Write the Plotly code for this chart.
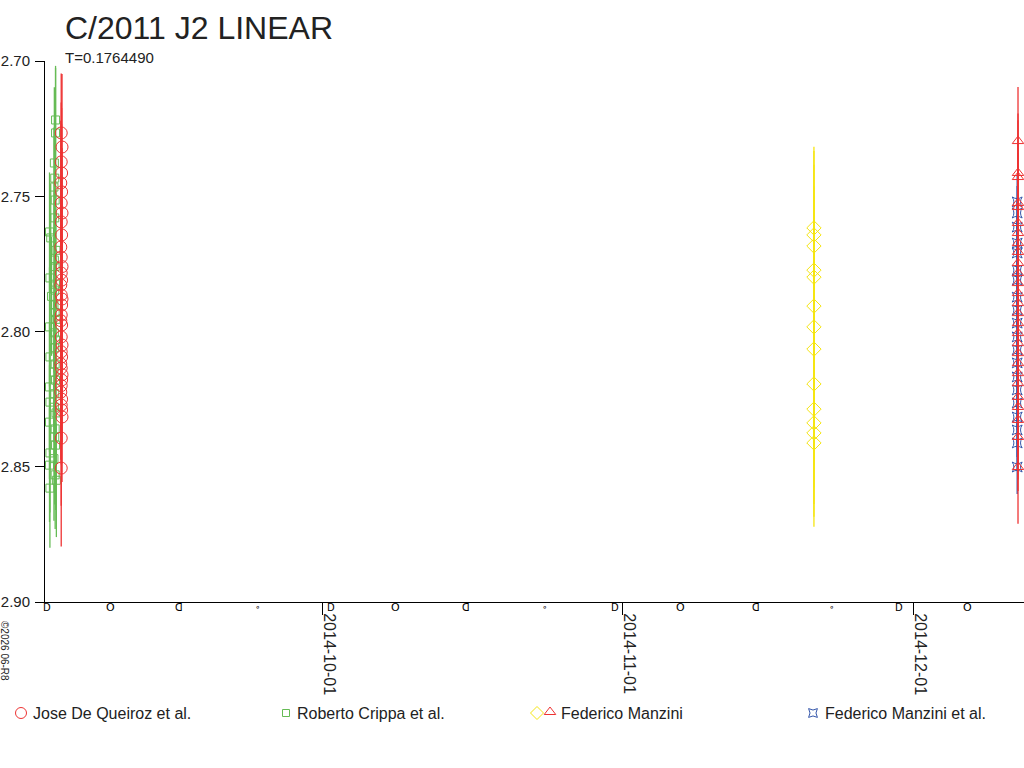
import plotly.graph_objects as go

# ---------------- data ----------------
title_text = "C/2011 J2 LINEAR"
subtitle_text = "T=0.1764490"

# Roberto Crippa et al. (green squares)
crippa_t = ["2014-09-02 21:00", "2014-09-03 12:00", "2014-09-03 12:00", "2014-09-03 09:00",
            "2014-09-03 10:00", "2014-09-03 08:00", "2014-09-03 11:00", "2014-09-03 00:00",
            "2014-09-03 10:00", "2014-09-03 13:00", "2014-09-03 09:00", "2014-09-03 11:00",
            "2014-09-02 22:00", "2014-09-03 12:00", "2014-09-03 10:00", "2014-09-03 02:00",
            "2014-09-03 08:00", "2014-09-03 11:00", "2014-09-03 13:00", "2014-09-02 21:00",
            "2014-09-03 09:00", "2014-09-03 12:00", "2014-09-03 10:00", "2014-09-02 22:00",
            "2014-09-03 11:00", "2014-09-03 08:00", "2014-09-02 21:00", "2014-09-03 12:00",
            "2014-09-03 10:00", "2014-09-02 22:00", "2014-09-03 09:00", "2014-09-03 13:00",
            "2014-09-02 21:00", "2014-09-03 11:00", "2014-09-03 10:00", "2014-09-02 22:00",
            "2014-09-03 12:00", "2014-09-02 21:00", "2014-09-03 08:00", "2014-09-03 11:00",
            "2014-09-02 22:00", "2014-09-03 14:00"]
crippa_mag = [2.7632, 2.7218, 2.7266, 2.7377, 2.7433, 2.7466, 2.7514, 2.7654, 2.7580, 2.7700,
              2.7736, 2.7760, 2.7802, 2.7825, 2.7847, 2.7870, 2.7902, 2.7930, 2.7955, 2.7983,
              2.8005, 2.8031, 2.8060, 2.8094, 2.8120, 2.8150, 2.8205, 2.8180, 2.8230, 2.8261,
              2.8280, 2.8301, 2.8335, 2.8360, 2.8390, 2.8449, 2.8420, 2.8494, 2.8470, 2.8530,
              2.8579, 2.8550]
crippa_err = [0.022, 0.020, 0.024, 0.028, 0.025, 0.022, 0.026, 0.020, 0.024, 0.022,
              0.025, 0.023, 0.021, 0.026, 0.024, 0.022, 0.025, 0.023, 0.026, 0.022,
              0.024, 0.021, 0.025, 0.023, 0.022, 0.026, 0.024, 0.022, 0.023, 0.025,
              0.022, 0.024, 0.021, 0.023, 0.025, 0.022, 0.024, 0.021, 0.023, 0.020,
              0.022, 0.021]

# Jose De Queiroz et al. (red circles)
queiroz_t = ["2014-09-04 02:00", "2014-09-04 04:00", "2014-09-04 02:00", "2014-09-04 03:00",
             "2014-09-04 01:00", "2014-09-04 03:00", "2014-09-04 02:00", "2014-09-04 04:00",
             "2014-09-04 02:00", "2014-09-04 03:00", "2014-09-04 01:00", "2014-09-04 02:00",
             "2014-09-04 04:00", "2014-09-04 02:00", "2014-09-04 03:00", "2014-09-04 01:00",
             "2014-09-04 02:00", "2014-09-04 04:00", "2014-09-04 03:00", "2014-09-04 02:00",
             "2014-09-04 01:00", "2014-09-04 03:00", "2014-09-04 02:00", "2014-09-04 04:00",
             "2014-09-04 02:00", "2014-09-04 03:00", "2014-09-04 01:00", "2014-09-04 02:00",
             "2014-09-04 04:00", "2014-09-04 03:00", "2014-09-04 02:00", "2014-09-04 01:00",
             "2014-09-04 03:00", "2014-09-04 02:00", "2014-09-04 04:00", "2014-09-04 02:00",
             "2014-09-04 03:00", "2014-09-04 02:00"]
queiroz_mag = [2.7266, 2.7318, 2.7373, 2.7414, 2.7451, 2.7484, 2.7525, 2.7562, 2.7595, 2.7643,
               2.7688, 2.7725, 2.7760, 2.7784, 2.7810, 2.7828, 2.7865, 2.7880, 2.7902, 2.7939,
               2.7960, 2.7976, 2.8020, 2.8050, 2.8075, 2.8094, 2.8120, 2.8135, 2.8160, 2.8179,
               2.8200, 2.8224, 2.8250, 2.8272, 2.8316, 2.8394, 2.8290, 2.8505]
queiroz_err = [0.022, 0.027, 0.022, 0.024, 0.023, 0.025, 0.022, 0.024, 0.026, 0.023,
               0.024, 0.022, 0.025, 0.023, 0.024, 0.022, 0.025, 0.023, 0.026, 0.022,
               0.024, 0.023, 0.025, 0.022, 0.024, 0.023, 0.026, 0.022, 0.025, 0.024,
               0.023, 0.025, 0.024, 0.022, 0.024, 0.025, 0.023, 0.029]

# Federico Manzini (yellow diamonds)
manzini_d_t = ["2014-11-20 18:30"] * 13
manzini_d_mag = [2.7617, 2.7643, 2.7684, 2.7773, 2.7799, 2.7906, 2.7983, 2.8065, 2.8194,
                 2.8287, 2.8338, 2.8375, 2.8412]
manzini_d_err = [0.030, 0.031, 0.030, 0.031, 0.030, 0.029, 0.030, 0.031, 0.030,
                 0.029, 0.030, 0.031, 0.031]

# Federico Manzini (red triangles)
manzini_t_t = ["2014-12-11 20:00"] * 27
manzini_t_mag = [2.7296, 2.7414, 2.7429, 2.7525, 2.7540, 2.7599, 2.7636, 2.7673, 2.7706,
                 2.7747, 2.7784, 2.7821, 2.7858, 2.7895, 2.7932, 2.7969, 2.8006, 2.8043,
                 2.8080, 2.8117, 2.8154, 2.8191, 2.8242, 2.8279, 2.8327, 2.8390, 2.8501]
manzini_t_err = [0.020, 0.022, 0.021, 0.022, 0.020, 0.021, 0.022, 0.020, 0.021,
                 0.022, 0.020, 0.021, 0.022, 0.020, 0.021, 0.022, 0.020, 0.021,
                 0.022, 0.020, 0.021, 0.022, 0.020, 0.021, 0.022, 0.020, 0.021]

# Federico Manzini et al. (blue stars)
manzini_s_t = ["2014-12-11 18:00"] * 20
manzini_s_mag = [2.7521, 2.7562, 2.7614, 2.7673, 2.7710, 2.7773, 2.7810, 2.7873, 2.7921,
                 2.7969, 2.8020, 2.8068, 2.8116, 2.8168, 2.8216, 2.8264, 2.8316, 2.8364,
                 2.8412, 2.8501]
manzini_s_err = [0.010] * 20

# moon phases along the time axis
moon_dates = ["2014-09-02 11:11", "2014-09-09 01:38", "2014-09-16 02:05", "2014-09-24 06:14",
              "2014-10-01 19:33", "2014-10-08 10:51", "2014-10-15 19:12", "2014-10-23 21:57",
              "2014-10-31 02:48", "2014-11-06 22:23", "2014-11-14 15:16", "2014-11-22 12:32",
              "2014-11-29 10:06", "2014-12-06 12:27"]
moon_phase = ["first", "full", "last", "new", "first", "full", "last", "new",
              "first", "full", "last", "new", "first", "full"]

y_ticks = [2.70, 2.75, 2.80, 2.85, 2.90]
x_ticks = ["2014-10-01", "2014-11-01", "2014-12-01"]
x_range = ["2014-09-02 09:50", "2014-12-12 10:50"]
y_range = [2.90, 2.70]

legend_names = ["Jose De Queiroz et al.", "Roberto Crippa et al.", "Federico Manzini",
                "Federico Manzini et al."]

# ---------------- styling ----------------
RED = "#ee3333"
GREEN = "#66bb55"
YELLOW = "#f5e512"
BLUE = "#3355aa"
FONT = "Liberation Sans, Arial, sans-serif"
TXT = "#222222"

W, H = 1024, 768
px_l, px_r, px_t, px_b = 45, 1024, 61, 602

fig = go.Figure()


def add_series(t, m, e, color, symbol, size):
    fig.add_trace(go.Scatter(
        x=t, y=m, mode="markers",
        marker=dict(symbol=symbol, size=size, color=color,
                    line=dict(color=color, width=1)),
        error_y=dict(type="data", array=e, visible=True, color=color,
                     thickness=1.3, width=0),
        showlegend=False, xaxis="x", yaxis="y", cliponaxis=False))


add_series(crippa_t, crippa_mag, crippa_err, GREEN, "square-open", 8)
add_series(queiroz_t, queiroz_mag, queiroz_err, RED, "circle-open", 12)
add_series(manzini_d_t, manzini_d_mag, manzini_d_err, YELLOW, "diamond-open", 11)
add_series(manzini_s_t, manzini_s_mag, manzini_s_err, BLUE, "star-square-open", 9)
add_series(manzini_t_t, manzini_t_mag, manzini_t_err, RED, "triangle-up-open", 10)

# legend drawn on a pixel-space overlay axis
leg_y = 713
leg_items = [
    (21, [("circle-open", RED, 11)], 31, legend_names[0]),
    (286, [("square-open", GREEN, 7)], 295, legend_names[1]),
    (537, [("diamond-open", YELLOW, 10)], 559, legend_names[2]),
    (813, [("star-square-open", BLUE, 8)], 823, legend_names[3]),
]
for sx, syms, tx, name in leg_items:
    for (sym, col, sz) in syms:
        fig.add_trace(go.Scatter(x=[sx], y=[leg_y], mode="markers", xaxis="x2", yaxis="y2",
                                 marker=dict(symbol=sym, size=sz, color=col,
                                             line=dict(color=col, width=1)),
                                 showlegend=False, hoverinfo="skip"))
    fig.add_annotation(x=tx, y=leg_y, xref="x2", yref="y2", text=name, showarrow=False,
                       xanchor="left", yanchor="middle",
                       font=dict(family=FONT, size=16, color=TXT))
fig.add_trace(go.Scatter(x=[550], y=[leg_y - 1], mode="markers", xaxis="x2", yaxis="y2",
                         marker=dict(symbol="triangle-up-open", size=10, color=RED,
                                     line=dict(color=RED, width=1)),
                         showlegend=False, hoverinfo="skip"))

# moon phase glyphs
glyph = {"first": "D", "full": "O", "last": "ᗡ", "new": "∘"}
gsize = {"first": 10, "full": 11, "last": 10, "new": 9}
for d, p in zip(moon_dates, moon_phase):
    fig.add_annotation(x=d, y=px_b + 5, xref="x", yref="y2", text=glyph[p], showarrow=False,
                       xanchor="center", yanchor="middle", xshift=1,
                       font=dict(family="DejaVu Sans, sans-serif", size=gsize[p], color="#000"))

# title & subtitle
fig.add_annotation(x=63, y=28, xref="x2", yref="y2", text=title_text, showarrow=False,
                   xanchor="left", yanchor="middle",
                   font=dict(family=FONT, size=32, color=TXT))
fig.add_annotation(x=63, y=57, xref="x2", yref="y2", text=subtitle_text, showarrow=False,
                   xanchor="left", yanchor="middle",
                   font=dict(family=FONT, size=15, color=TXT))
# small vertical stamp
fig.add_annotation(x=5, y=651, xref="x2", yref="y2", text="©2026 06-R8", showarrow=False,
                   textangle=90, xanchor="center", yanchor="middle",
                   font=dict(family=FONT, size=10, color=TXT))

fig.update_layout(
    width=W, height=H,
    margin=dict(l=0, r=0, t=0, b=0, pad=0, autoexpand=False),
    paper_bgcolor="white", plot_bgcolor="rgba(0,0,0,0)",
    showlegend=False,
    xaxis=dict(domain=[px_l / W, px_r / W], type="date", range=x_range,
               tickvals=x_ticks, ticktext=x_ticks, tickangle=90,
               showgrid=False, zeroline=False, showline=True, linecolor="black", linewidth=1,
               ticks="outside", ticklen=12, tickcolor="black", ticklabelshift=7,
               ticklabelstandoff=-5, automargin=False,
               tickfont=dict(family=FONT, size=16, color=TXT), anchor="y"),
    yaxis=dict(domain=[1 - px_b / H, 1 - px_t / H], range=y_range,
               tickvals=y_ticks, tickformat=".2f", automargin=False,
               showgrid=False, zeroline=False, showline=True, linecolor="black", linewidth=1,
               ticks="outside", ticklen=9, tickcolor="black", ticklabelstandoff=2,
               tickfont=dict(family=FONT, size=15, color=TXT), anchor="x"),
    xaxis2=dict(domain=[0, 1], range=[0, W], visible=False, anchor="y2", fixedrange=True,
                automargin=False),
    yaxis2=dict(domain=[0, 1], range=[H, 0], visible=False, anchor="x2", fixedrange=True,
                automargin=False),
)

fig.write_html("out.html", config={"displayModeBar": False},
               post_script="document.body.style.margin='0';document.body.style.overflow='hidden';")
